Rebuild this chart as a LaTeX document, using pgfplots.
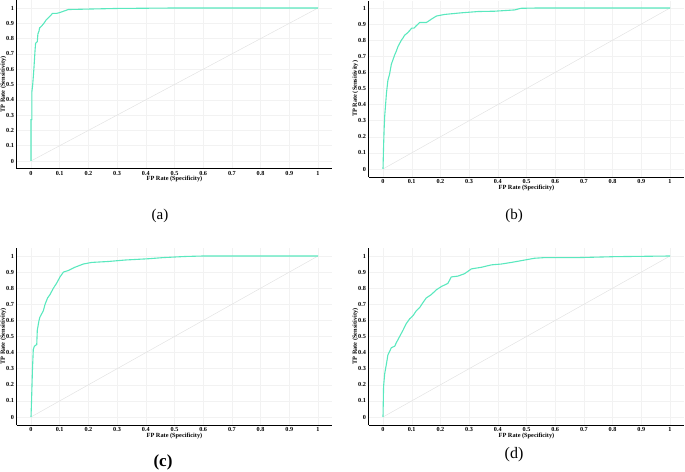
\documentclass[border=0pt]{standalone}
\usepackage{fontspec}
\setmainfont{Liberation Serif}
\usepackage{pgfplots}
\pgfplotsset{compat=1.18}
\definecolor{roc}{RGB}{90,232,190}
\pgfplotsset{
  rocaxis/.style={
    scale only axis,
    width=315.7pt,
    xmin=-0.05, xmax=1.05, ymin=-0.05, ymax=1.05,
    axis x line*=bottom, axis y line*=left,
    axis line style={-, black, line width=1pt},
    major tick length=0pt,
    grid=major, grid style={gray!10, line width=0.4pt},
    xtick={0,0.1,0.2,0.3,0.4,0.5,0.6,0.7,0.8,0.9,1},
    ytick={0,0.1,0.2,0.3,0.4,0.5,0.6,0.7,0.8,0.9,1},
    xticklabels={0,0.1,0.2,0.3,0.4,0.5,0.6,0.7,0.8,0.9,1},
    yticklabels={0,0.1,0.2,0.3,0.4,0.5,0.6,0.7,0.8,0.9,1},
    ticklabel style={font=\bfseries\fontsize{6.2}{7}\selectfont, inner sep=1pt},
    xticklabel style={anchor=north, yshift=-1.5pt},
    yticklabel style={anchor=east, xshift=-1.5pt},
    xlabel={FP Rate (Specificity)}, ylabel={TP Rate (Sensitivity)},
    label style={font=\bfseries\fontsize{6.3}{7}\selectfont},
    xlabel style={at={(axis description cs:0.5,-0.0633)}, anchor=center},
    ylabel style={at={(axis description cs:-0.042,0.5)}, anchor=center},
    no markers,
  },
  diag/.style={gray!22, line width=0.5pt},
  curve/.style={roc, line width=1.1pt},
}
\begin{document}
\begin{tikzpicture}[x=1pt,y=1pt]
\path[use as bounding box] (0,0) rectangle (685,471);
% (a)
\begin{axis}[rocaxis, height=168.3pt, at={(16.65pt,302.35pt)}, anchor=south west]
\addplot[diag] coordinates {(0,0)(1,1)};
\addplot[curve] coordinates {(0,0)(0,0.27)(0.003,0.27)(0.003,0.45)(0.006,0.5)(0.01,0.6)(0.014,0.72)(0.016,0.77)(0.022,0.78)(0.024,0.83)(0.028,0.85)(0.03,0.87)(0.036,0.88)(0.045,0.90)(0.052,0.92)(0.06,0.935)(0.068,0.95)(0.075,0.965)(0.09,0.965)(0.1,0.97)(0.115,0.98)(0.13,0.99)(0.2,0.993)(0.3,0.997)(0.5,1)(0.6,1)(1,1)};
\end{axis}
% (b)
\begin{axis}[rocaxis, ymax=1.045, height=176.3pt, at={(368.65pt,293.95pt)}, anchor=south west]
\addplot[diag] coordinates {(0,0)(1,1)};
\addplot[curve] coordinates {(0,0)(0.002,0.14)(0.004,0.25)(0.006,0.33)(0.009,0.40)(0.012,0.47)(0.017,0.55)(0.023,0.59)(0.029,0.65)(0.035,0.68)(0.041,0.71)(0.046,0.73)(0.052,0.76)(0.058,0.78)(0.064,0.80)(0.07,0.815)(0.075,0.83)(0.085,0.845)(0.093,0.86)(0.1,0.875)(0.108,0.875)(0.116,0.89)(0.128,0.91)(0.151,0.91)(0.16,0.92)(0.168,0.93)(0.186,0.95)(0.215,0.96)(0.273,0.97)(0.331,0.978)(0.389,0.98)(0.459,0.988)(0.48,0.998)(0.54,1)(1,1)};
\end{axis}
% (c)
\begin{axis}[rocaxis, height=177.1pt, at={(16.65pt,45.95pt)}, anchor=south west]
\addplot[diag] coordinates {(0,0)(1,1)};
\addplot[curve] coordinates {(0,0)(0.002,0.105)(0.005,0.29)(0.008,0.42)(0.012,0.44)(0.02,0.45)(0.022,0.54)(0.028,0.60)(0.031,0.62)(0.037,0.64)(0.043,0.66)(0.049,0.70)(0.058,0.74)(0.066,0.76)(0.072,0.78)(0.078,0.80)(0.089,0.83)(0.095,0.85)(0.101,0.87)(0.113,0.90)(0.13,0.91)(0.153,0.93)(0.182,0.95)(0.211,0.96)(0.27,0.966)(0.328,0.975)(0.41,0.983)(0.46,0.99)(0.537,0.997)(0.6,1)(1,1)};
\end{axis}
% (d)
\begin{axis}[rocaxis, height=177.1pt, at={(368.65pt,45.95pt)}, anchor=south west]
\addplot[diag] coordinates {(0,0)(1,1)};
\addplot[curve] coordinates {(0,0)(0.002,0.19)(0.006,0.27)(0.012,0.33)(0.017,0.385)(0.029,0.43)(0.041,0.44)(0.046,0.46)(0.058,0.50)(0.070,0.54)(0.081,0.58)(0.093,0.61)(0.105,0.63)(0.116,0.66)(0.128,0.68)(0.139,0.71)(0.151,0.74)(0.168,0.76)(0.186,0.79)(0.203,0.81)(0.226,0.83)(0.238,0.87)(0.261,0.875)(0.284,0.89)(0.308,0.92)(0.343,0.93)(0.378,0.945)(0.412,0.95)(0.447,0.96)(0.494,0.975)(0.528,0.986)(0.563,0.99)(0.679,0.99)(0.81,0.996)(1,1)};
\end{axis}
\node[font=\fontsize{15}{17}\selectfont] at (160,255) {(a)};
\node[font=\fontsize{15}{17}\selectfont] at (514,255) {(b)};
\node[font=\bfseries\fontsize{17}{19}\selectfont] at (163,9) {(c)};
\node[font=\fontsize{16}{18}\selectfont] at (514,16) {(d)};
\end{tikzpicture}
\end{document}
